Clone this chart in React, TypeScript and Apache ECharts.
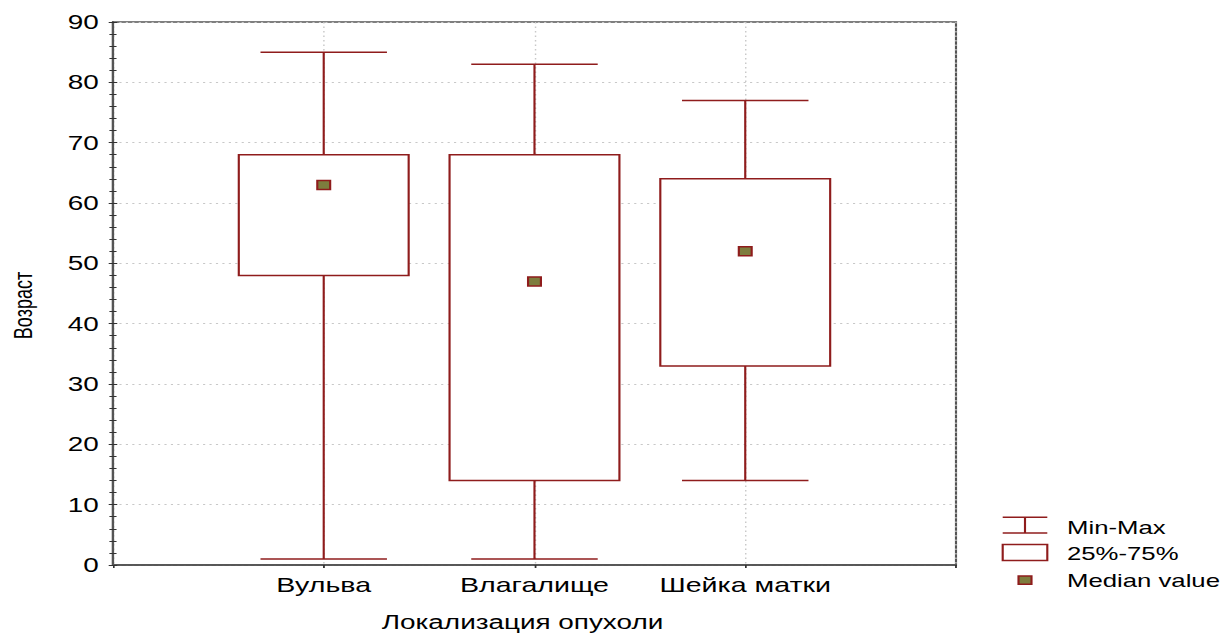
import React, { useEffect, useRef } from 'react';
import * as echarts from 'echarts';

// ---- data ----
const categories = ['Вульва', 'Влагалище', 'Шейка матки'];
const minValues = [1, 1, 14];
const q1Values = [48, 14, 33];
const medianValues = [63, 47, 52];
const q3Values = [68, 68, 64];
const maxValues = [85, 83, 77];
const legendLabels = ['Min-Max', '25%-75%', 'Median value'];
const xTitle = 'Локализация опухоли';
const yTitle = 'Возраст';

// the reference is horizontally stretched; draw narrow and stretch with CSS
const SX = 1.43;
const W = 857;
const H = 634;
const FONT = '"Liberation Sans", Arial, sans-serif';
const RED = '#8f1c1c';
const OLIVE = '#7d7d3e';

export default function App() {
  const ref = useRef<HTMLDivElement>(null);
  useEffect(() => {
    if (!ref.current) return;
    const chart = echarts.init(ref.current, undefined, { renderer: 'svg' });

    const boxData = categories.map((_, i) => [i + 1, minValues[i], q1Values[i], medianValues[i], q3Values[i], maxValues[i]]);
    const medianData = categories.map((_, i) => [i + 1, medianValues[i]]);

    const yAxisBase = {
      type: 'value',
      min: 0,
      max: 90,
      interval: 10,
      axisLine: { show: true, lineStyle: { color: '#555', width: 1.5 } },
      axisTick: { show: true, inside: true, length: 3, lineStyle: { color: '#333' } },
      minorTick: { show: true, splitNumber: 5, length: -2.5, lineStyle: { color: '#333' } },
    };

    const option: any = {
      animation: false,
      backgroundColor: '#fff',
      textStyle: { fontFamily: FONT },
      grid: { left: 79, right: W - 956 / SX, top: 22, bottom: 69, show: true, borderColor: '#555', borderWidth: 1.5, backgroundColor: 'transparent' },
      xAxis: [
        {
          type: 'value',
          min: 0,
          max: 4,
          interval: 1,
          axisLine: { show: true, onZero: false, lineStyle: { color: '#555', width: 1.5 } },
          axisTick: { show: true, length: 3, lineStyle: { color: '#333' } },
          axisLabel: {
            margin: 10,
            fontSize: 20,
            color: '#000',
            fontFamily: FONT,
            formatter: (v: number) => (v >= 1 && v <= categories.length ? categories[v - 1] : ''),
          },
          splitLine: { show: true, lineStyle: { color: '#c8c8c8', type: [1.5, 3], width: 1 } },
        },
        {
          type: 'value',
          position: 'top',
          min: 0,
          max: 4,
          interval: 1,
          axisLine: { show: true, lineStyle: { color: '#555', width: 1.5 } },
          axisTick: { show: true, inside: true, length: 3, lineStyle: { color: '#333' } },
          axisLabel: { show: false },
          splitLine: { show: false },
        },
      ],
      yAxis: [
        {
          ...yAxisBase,
          position: 'left',
          axisLabel: { margin: 10, fontSize: 19.5, color: '#000', fontFamily: FONT },
          splitLine: { show: true, lineStyle: { color: '#c8c8c8', type: [1.5, 3], width: 1 } },
        },
        {
          ...yAxisBase,
          position: 'right',
          axisLabel: { show: false },
          splitLine: { show: false },
        },
      ],
      series: [
        {
          type: 'custom',
          xAxisIndex: 0,
          yAxisIndex: 0,
          data: boxData,
          encode: { x: 0, y: [1, 2, 3, 4, 5] },
          renderItem: (params: any, api: any) => {
            const x = api.value(0);
            const band = api.size([1, 0])[0];
            const boxHalf = band * 0.403;
            const capHalf = band * 0.3;
            const pMin = api.coord([x, api.value(1)]);
            const pQ1 = api.coord([x, api.value(2)]);
            const pQ3 = api.coord([x, api.value(4)]);
            const pMax = api.coord([x, api.value(5)]);
            const cx = pMin[0];
            const ls = { stroke: RED, lineWidth: 1.5 };
            return {
              type: 'group',
              children: [
                { type: 'line', shape: { x1: cx, y1: pMin[1], x2: cx, y2: pMax[1] }, style: ls },
                { type: 'line', shape: { x1: cx - capHalf, y1: pMin[1], x2: cx + capHalf, y2: pMin[1] }, style: ls },
                { type: 'line', shape: { x1: cx - capHalf, y1: pMax[1], x2: cx + capHalf, y2: pMax[1] }, style: ls },
                {
                  type: 'rect',
                  shape: { x: cx - boxHalf, y: pQ3[1], width: boxHalf * 2, height: pQ1[1] - pQ3[1] },
                  style: { fill: '#fff', stroke: RED, lineWidth: 1.5 },
                },
              ],
            };
          },
          z: 2,
        },
        {
          type: 'scatter',
          xAxisIndex: 0,
          yAxisIndex: 0,
          data: medianData,
          symbol: 'rect',
          symbolSize: [9, 9],
          itemStyle: { color: OLIVE, borderColor: RED, borderWidth: 1.5, opacity: 1 },
          z: 5,
        },
      ],
      graphic: [
        {
          type: 'text',
          x: 522.5 / SX,
          y: 622,
          style: { text: xTitle, font: `19.5px ${FONT}`, fill: '#000', textAlign: 'center', textVerticalAlign: 'middle' },
        },
        {
          type: 'text',
          x: 23.5 / SX,
          y: 305.5,
          rotation: Math.PI / 2,
          style: { text: yTitle, font: `18px ${FONT}`, fill: '#000', textAlign: 'center', textVerticalAlign: 'middle' },
        },
        // legend: Min-Max icon
        { type: 'line', shape: { x1: 1002.7 / SX, y1: 517.3, x2: 1047.3 / SX, y2: 517.3 }, style: { stroke: RED, lineWidth: 1.5 } },
        { type: 'line', shape: { x1: 1002.7 / SX, y1: 533, x2: 1047.3 / SX, y2: 533 }, style: { stroke: RED, lineWidth: 1.5 } },
        { type: 'line', shape: { x1: 1025 / SX, y1: 517.3, x2: 1025 / SX, y2: 533 }, style: { stroke: RED, lineWidth: 1.5 } },
        {
          type: 'text',
          x: 1067 / SX,
          y: 527.5,
          style: { text: legendLabels[0], font: `18px ${FONT}`, fill: '#000', textAlign: 'left', textVerticalAlign: 'middle' },
        },
        // legend: box icon
        {
          type: 'rect',
          shape: { x: 1002.7 / SX, y: 544.5, width: (1047.3 - 1002.7) / SX, height: 16 },
          style: { fill: '#fff', stroke: RED, lineWidth: 1.5 },
        },
        {
          type: 'text',
          x: 1067 / SX,
          y: 554,
          style: { text: legendLabels[1], font: `18px ${FONT}`, fill: '#000', textAlign: 'left', textVerticalAlign: 'middle' },
        },
        // legend: median icon
        {
          type: 'rect',
          shape: { x: 1018.5 / SX, y: 576, width: (1031.5 - 1018.5) / SX, height: 8.3 },
          style: { fill: OLIVE, stroke: RED, lineWidth: 1.5 },
        },
        {
          type: 'text',
          x: 1067 / SX,
          y: 581,
          style: { text: legendLabels[2], font: `18px ${FONT}`, fill: '#000', textAlign: 'left', textVerticalAlign: 'middle' },
        },
      ],
    };

    chart.setOption(option);
    return () => chart.dispose();
  }, []);

  return (
    <div style={{ position: 'absolute', left: 0, top: 0, width: W * SX, height: H, overflow: 'hidden', background: '#fff' }}>
      <div
        ref={ref}
        style={{ width: W, height: H, transform: `scaleX(${SX})`, transformOrigin: '0 0' }}
      />
    </div>
  );
}
